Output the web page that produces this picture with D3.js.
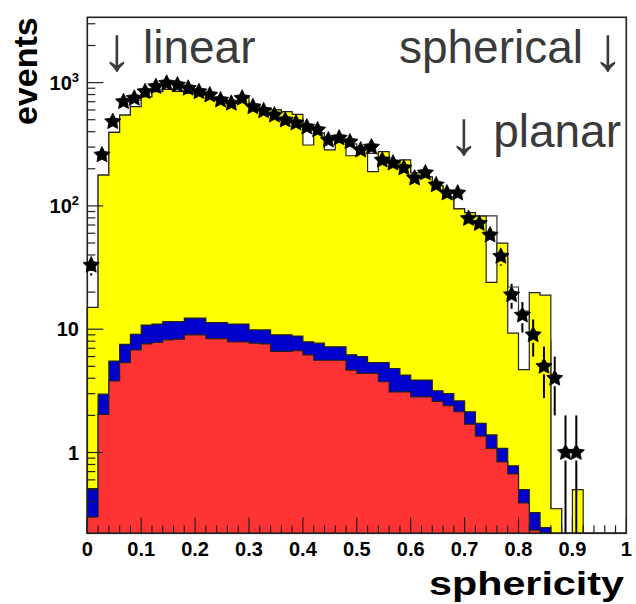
<!DOCTYPE html>
<html>
<head>
<meta charset="utf-8">
<script src="https://cdn.jsdelivr.net/npm/d3@7"></script>
<style>
  body { margin: 0; background: #fff; }
  svg { display: block; }
  text { font-family: "Liberation Sans", Arial, Helvetica, sans-serif; }
</style>
</head>
<body>
<script>
// 50 bins of sphericity, width 0.02
var binWidth = 0.02

// stacked MC components (bottom to top)
var red = [0.30, 2.04, 3.8, 5.35, 6.78, 7.6, 7.8, 8.2, 8.3, 9.0,
  9.0, 8.4, 8.4, 7.9, 7.9, 7.7, 7.6, 6.6, 6.6, 6.7,
  6.2, 5.6, 5.6, 5.6, 4.66, 4.39, 4.39, 3.75, 3.1, 3.1,
  2.83, 2.83, 2.6, 2.4, 2.14, 1.70, 1.36, 1.08, 0.84, 0.67,
  0.39, 0.235, 0, 0, 0, 0, 0, 0, 0, 0]
var blue = [0.21, 0.93, 1.72, 2.19, 2.31, 3.2, 3.2, 3.3, 3.2, 3.3,
  3.3, 2.9, 2.9, 3.1, 3.1, 2.16, 2.26, 2.4, 2.4, 2.1,
  1.7, 2.1, 1.6, 1.6, 1.54, 1.61, 0.96, 1.6, 1.7, 1.15,
  1.04, 1.04, 0.57, 0.6, 0.48, 0.44, 0.36, 0.31, 0.24, 0.11,
  0.11, 0.09, 0.246, 0, 0, 0, 0, 0, 0, 0]
var yellow = [14.5, 175, 389, 538, 629, 756, 833, 868, 838, 808,
  788, 749, 709, 679, 749, 640, 610, 591, 572, 544,
  304, 382, 277, 323, 249, 284, 184, 270, 217, 232,
  181, 168, 142, 115, 92, 86, 81, 22.6, 48.9, 8.5,
  4.2, 19.5, 18.65, 0.35, 0, 0.5, 0, 0, 0, 0]

// hollow comparison histogram
var outline = [15, 178, 395, 546, 722, 767, 844, 880, 850, 820,
  800, 760, 720, 690, 700, 650, 620, 600, 540, 510,
  413, 390, 342, 330, 318, 290, 267, 250, 222, 215,
  185, 172, 145, 118, 95, 88, 83, 83, 40, 22,
  14, 10, 8, 0.35, 0, 0, 0, 0, 0, 0]

// data (events per bin)
var counts = [33, 259, 482, 700, 746, 843, 926, 987, 956, 899,
  843, 793, 722, 679, 746, 636, 590, 545, 497, 470,
  436, 413, 342, 355, 330, 284, 300, 235, 222, 203,
  168, 185, 148, 127, 127, 79, 72, 58, 39, 19,
  13, 9, 5, 4, 1, 1, 0, 0, 0, 0]

var xTickValues = [0, 0.1, 0.2, 0.3, 0.4, 0.5, 0.6, 0.7, 0.8, 0.9, 1]
var xTickText = ["0", "0.1", "0.2", "0.3", "0.4", "0.5", "0.6", "0.7", "0.8", "0.9", "1"]
var yTickValues = [1, 10, 100, 1000]
var yTickBase = ["1", "10", "10", "10"]
var yTickExp = ["", "", "2", "3"]

var W = 636, H = 604
var m = {left: 87.3, right: 9.7, top: 17.3, bottom: 70.7}
var width = W - m.left - m.right, height = H - m.top - m.bottom

var svg = d3.select("body").append("svg")
    .attr("width", W)
    .attr("height", H)

var x = d3.scaleLinear().domain([0, 1]).range([m.left, m.left + width])
var y = d3.scaleLog().domain([0.2212, 3385]).range([m.top + height, m.top]).clamp(true)
var bottom = m.top + height

function yv(v) { return v > 0 ? y(v) : bottom }

var rows = red.map(function(r, i) {
  return {i: i, red: r, blue: blue[i], yellow: yellow[i]}
})
var stack = d3.stack().keys(["red", "blue", "yellow"])(rows)

function stepPoints(tops) {
  var pts = [[x(0), bottom]]
  tops.forEach(function(v, i) {
    pts.push([x(i * binWidth), yv(v)])
    pts.push([x((i + 1) * binWidth), yv(v)])
  })
  pts.push([x(tops.length * binWidth), bottom])
  return pts
}

var line = d3.line()

var hist = svg.append("g")

// hollow histogram first, the stack covers it where higher
hist.append("path")
    .attr("d", line(stepPoints(outline)))
    .attr("fill", "none")
    .attr("stroke", "#333")
    .attr("stroke-width", 1.2)

var colors = {yellow: "#ffff00", blue: "#0000cc", red: "#ff3333"}
stack.slice().reverse().forEach(function(layer) {
  var tops = layer.map(function(d) { return d[1] })
  hist.append("path")
      .attr("d", line(stepPoints(tops)) + "Z")
      .attr("fill", colors[layer.key])
      .attr("stroke", "#222")
      .attr("stroke-width", 1.2)
})

// frame
svg.append("rect")
    .attr("x", m.left).attr("y", m.top)
    .attr("width", width).attr("height", height)
    .attr("fill", "none")
    .attr("stroke", "#222")
    .attr("stroke-width", 1.6)

// x ticks (inside, pointing up)
var axes = svg.append("g").attr("stroke", "#222").attr("stroke-width", 1.2)
d3.range(0, 51).forEach(function(k) {
  var major = k % 5 === 0
  axes.append("line")
      .attr("x1", x(k * binWidth)).attr("x2", x(k * binWidth))
      .attr("y1", bottom).attr("y2", bottom - (major ? 16 : 8))
})

// y ticks (log, inside, pointing right)
var yMinor = []
;[0.1, 1, 10, 100, 1000].forEach(function(dec) {
  d3.range(1, 10).forEach(function(k) { yMinor.push(dec * k) })
})
yMinor.filter(function(v) { return v >= 0.2212 && v <= 3385 }).forEach(function(v) {
  var major = Math.abs(Math.log10(v) - Math.round(Math.log10(v))) < 1e-9
  axes.append("line")
      .attr("x1", m.left).attr("x2", m.left + (major ? 16 : 8))
      .attr("y1", y(v)).attr("y2", y(v))
})

// tick labels
svg.append("g").selectAll("text")
    .data(xTickValues)
  .enter().append("text")
    .attr("x", function(d) { return x(d) })
    .attr("y", 556)
    .attr("text-anchor", "middle")
    .attr("font-size", 20)
    .attr("font-weight", "bold")
    .text(function(d, i) { return xTickText[i] })

var yl = svg.append("g").selectAll("text")
    .data(yTickValues)
  .enter().append("text")
    .attr("x", 79)
    .attr("y", function(d) { return y(d) + 7 })
    .attr("text-anchor", "end")
    .attr("font-size", 20)
    .attr("font-weight", "bold")
yl.append("tspan").text(function(d, i) { return yTickBase[i] })
yl.append("tspan")
    .attr("font-size", 13)
    .attr("dy", -8)
    .text(function(d, i) { return yTickExp[i] })

// axis titles
svg.append("text")
    .attr("transform", "translate(36.5," + m.top + ") rotate(-90)")
    .attr("text-anchor", "end")
    .attr("font-size", 34)
    .attr("font-weight", "bold")
    .text("events")

svg.append("text")
    .attr("x", 624).attr("y", 595)
    .attr("text-anchor", "end")
    .attr("font-size", 33)
    .attr("font-weight", "bold")
    .attr("textLength", 195)
    .attr("lengthAdjust", "spacingAndGlyphs")
    .text("sphericity")

// annotations: word plus a tall thin arrow
var ann = svg.append("g").attr("font-size", 46).attr("fill", "#3a3a3a")
ann.append("text").attr("x", 143).attr("y", 63).text("linear")
ann.append("text").attr("x", 583).attr("y", 63).attr("text-anchor", "end").text("spherical")
ann.append("text").attr("x", 621).attr("y", 147).attr("text-anchor", "end").text("planar")
var arrows = [[117, 70], [608, 70], [464, 154]]
ann.selectAll(".arr")
    .data(arrows)
  .enter().append("text")
    .attr("class", "arr")
    .attr("x", function(d) { return d[0] })
    .attr("y", function(d) { return d[1] })
    .attr("text-anchor", "middle")
    .attr("font-size", 62)
    .attr("font-weight", 300)
    .text("↓")

// fat five-pointed star like the ROOT marker
var rootStar = {
  draw: function(ctx, size) {
    var R = Math.sqrt(size) / 2, ri = R * 0.5
    for (var k = 0; k < 10; k++) {
      var a = -Math.PI / 2 + k * Math.PI / 5
      var rr = k % 2 ? ri : R
      if (k === 0) ctx.moveTo(rr * Math.cos(a), rr * Math.sin(a))
      else ctx.lineTo(rr * Math.cos(a), rr * Math.sin(a))
    }
    ctx.closePath()
  }
}

// data points with sqrt(N) errors
var pts = counts.map(function(n, i) { return {i: i, n: n} }).filter(function(d) { return d.n > 0 })
var r = 8
var eb = svg.append("g").attr("stroke", "#000").attr("stroke-width", 2)
pts.forEach(function(d) {
  var cx = x((d.i + 0.5) * binWidth) - 1.5
  var cy = yv(d.n)
  var s = Math.sqrt(d.n)
  var yHi = yv(d.n + s), yLo = yv(d.n - s)
  if (cy - r > yHi) eb.append("line").attr("x1", cx).attr("x2", cx).attr("y1", yHi).attr("y2", cy - r)
  if (yLo > cy + r) eb.append("line").attr("x1", cx).attr("x2", cx).attr("y1", cy + r).attr("y2", yLo)
})

svg.append("g").selectAll("path")
    .data(pts)
  .enter().append("path")
    .attr("transform", function(d) { return "translate(" + (x((d.i + 0.5) * binWidth) - 1.5) + "," + yv(d.n) + ")" })
    .attr("d", d3.symbol().type(rootStar).size(290))
    .attr("fill", "#000")
    .attr("stroke", "#000")
    .attr("stroke-width", 0.8)
</script>
</body>
</html>
